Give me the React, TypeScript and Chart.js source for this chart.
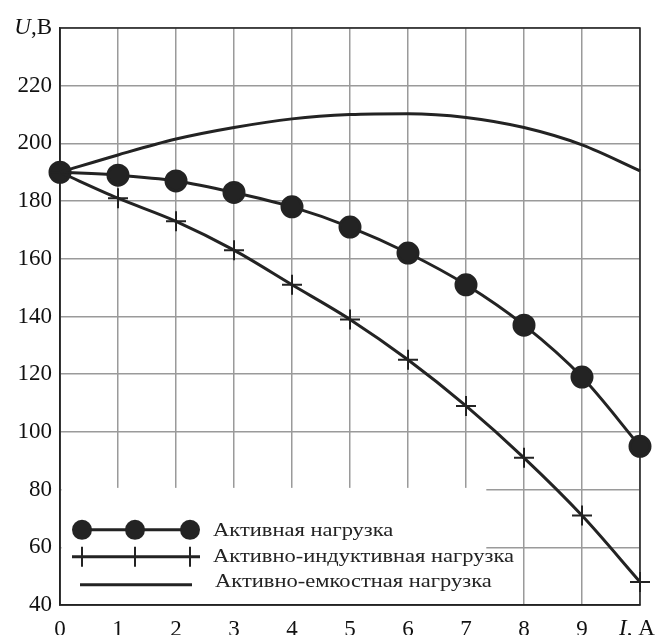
import React, { useEffect, useRef } from "react";
import { Chart, registerables } from "chart.js";

Chart.register(...registerables);

const currentA = [0, 1, 2, 3, 4, 5, 6, 7, 8, 9, 10];
const activeLoad = [190, 189, 187, 183, 178, 171, 162, 151, 137, 119, 95];
const inductiveLoad = [190, 181, 173, 163, 151, 139, 125, 109, 91, 71, 48];
const capacitiveLoad = [190, 196, 201.5, 205.5, 208.5, 210, 210.3, 209, 205.5, 199.5, 190.5];
const seriesNames = ["Активная нагрузка", "Активно-индуктивная нагрузка", "Активно-емкостная нагрузка"];
const xTicks = [0, 1, 2, 3, 4, 5, 6, 7, 8, 9];
const yTicks = [40, 60, 80, 100, 120, 140, 160, 180, 200, 220];

const INK = "#232323";
const FONT = "'Liberation Serif', 'Times New Roman', serif";

export default function App() {
  const ref = useRef<HTMLCanvasElement>(null);
  useEffect(() => {
    document.body.style.margin = "0";
    const canvas = ref.current!;
    const framePlugin = {
      id: "frame",
      beforeDatasetsDraw(chart: any) {
        const { ctx, chartArea: a, scales } = chart;
        const xs = scales.x, ys = scales.y;
        ctx.save();
        // legend box (white) covering grid
        const bx = a.left + 1.5;
        const br = xs.getPixelForValue(7.35);
        const bt = ys.getPixelForValue(80.6);
        ctx.fillStyle = "#fff";
        ctx.fillRect(bx, bt, br - bx, a.bottom - bt - 1);
        // frame
        ctx.strokeStyle = INK;
        ctx.lineWidth = 1.5;
        ctx.strokeRect(a.left, a.top, a.right - a.left, a.bottom - a.top);
        // legend content
        const rows = [bt + 42, bt + 69, bt + 97];
        const sx = [a.left + 22, a.left + 75, a.left + 130];
        ctx.lineWidth = 3;
        ctx.strokeStyle = INK;
        ctx.fillStyle = INK;
        // row 1
        ctx.beginPath();
        ctx.moveTo(sx[0], rows[0]);
        ctx.lineTo(sx[2], rows[0]);
        ctx.stroke();
        sx.forEach((x) => {
          ctx.beginPath();
          ctx.arc(x, rows[0], 10, 0, Math.PI * 2);
          ctx.fill();
        });
        // row 2
        ctx.beginPath();
        ctx.moveTo(sx[0] - 10, rows[1]);
        ctx.lineTo(sx[2] + 10, rows[1]);
        ctx.stroke();
        ctx.lineWidth = 2;
        sx.forEach((x) => {
          ctx.beginPath();
          ctx.moveTo(x, rows[1] - 10);
          ctx.lineTo(x, rows[1] + 10);
          ctx.stroke();
        });
        // row 3
        ctx.lineWidth = 3;
        ctx.beginPath();
        ctx.moveTo(sx[0] - 2, rows[2]);
        ctx.lineTo(sx[2] + 2, rows[2]);
        ctx.stroke();
        ctx.textBaseline = "middle";
        ctx.textAlign = "left";
        ctx.font = `18px ${FONT}`;
        const textRows = [bt + 43, bt + 69, bt + 94];
        const textX = [a.left + 153, a.left + 153, a.left + 155];
        seriesNames.forEach((name, i) => {
          ctx.save();
          ctx.translate(textX[i], textRows[i]);
          ctx.scale(1.25, 1);
          ctx.fillText(name, 0, 0);
          ctx.restore();
        });
        ctx.restore();
      },
      afterDraw(chart: any) {
        const { ctx, scales } = chart;
        const xs = scales.x, ys = scales.y;
        ctx.save();
        ctx.fillStyle = "#111";
        ctx.textBaseline = "middle";
        // U,В
        const uy = ys.getPixelForValue(240);
        ctx.font = `italic 23px ${FONT}`;
        const uW = ctx.measureText("U").width;
        ctx.font = `23px ${FONT}`;
        const restW = ctx.measureText(",В").width;
        const x0 = chart.chartArea.left - 8 - uW - restW;
        ctx.font = `italic 23px ${FONT}`;
        ctx.textAlign = "left";
        ctx.fillText("U", x0, uy);
        ctx.font = `23px ${FONT}`;
        ctx.fillText(",В", x0 + uW, uy);
        // I, A
        const ix = xs.getPixelForValue(10);
        const iy = chart.chartArea.bottom + 24;
        ctx.font = `italic 23px ${FONT}`;
        const iW = ctx.measureText("I").width;
        ctx.font = `23px ${FONT}`;
        const aW = ctx.measureText(", A").width;
        const x1 = ix - (iW + aW) / 2 - 3;
        ctx.font = `italic 23px ${FONT}`;
        ctx.fillText("I", x1, iy);
        ctx.font = `23px ${FONT}`;
        ctx.fillText(", A", x1 + iW, iy);
        ctx.restore();
      },
    };

    const chart = new Chart(canvas, {
      type: "line",
      data: {
        labels: currentA,
        datasets: [
          {
            label: seriesNames[2],
            data: currentA.map((x, i) => ({ x, y: capacitiveLoad[i] })),
            borderColor: INK,
            borderWidth: 3,
            pointRadius: 0,
            tension: 0.4,
            cubicInterpolationMode: "monotone",
            clip: false,
          },
          {
            label: seriesNames[1],
            data: currentA.map((x, i) => ({ x, y: inductiveLoad[i] })),
            borderColor: INK,
            borderWidth: 3,
            pointStyle: "cross",
            pointRadius: 10,
            pointBorderWidth: 2,
            pointBorderColor: INK,
            tension: 0.3,
            cubicInterpolationMode: "monotone",
            clip: false,
          },
          {
            label: seriesNames[0],
            data: currentA.map((x, i) => ({ x, y: activeLoad[i] })),
            borderColor: INK,
            backgroundColor: INK,
            borderWidth: 3,
            pointStyle: "circle",
            pointRadius: 10,
            pointBackgroundColor: INK,
            pointBorderColor: INK,
            tension: 0.3,
            cubicInterpolationMode: "monotone",
            clip: false,
          },
        ],
      },
      options: {
        animation: false,
        responsive: false,
        layout: { padding: { left: 0, right: 27, top: 28, bottom: 0 } },
        plugins: { legend: { display: false }, tooltip: { enabled: false } },
        scales: {
          x: {
            type: "linear",
            min: 0,
            max: 10,
            afterBuildTicks: (s: any) => {
              s.ticks = [...xTicks, 10].map((v) => ({ value: v }));
            },
            afterFit: (s: any) => {
              s.height = 30;
            },
            ticks: {
              color: "#111",
              font: { family: FONT, size: 23 },
              padding: 11,
              maxRotation: 0,
              autoSkip: false,
              callback: (v: any) => (v === 10 ? "" : String(v)),
            },
            grid: { color: "#9a9a9a", lineWidth: 1.5, drawTicks: false },
            border: { color: INK, width: 1.5 },
          },
          y: {
            min: 40,
            max: 240,
            afterBuildTicks: (s: any) => {
              s.ticks = [...yTicks, 240].map((v) => ({ value: v }));
            },
            afterFit: (s: any) => {
              s.width = 60;
            },
            ticks: {
              color: "#111",
              font: { family: FONT, size: 23 },
              padding: 8,
              autoSkip: false,
              callback: (v: any) => (v === 240 ? "" : String(v)),
            },
            grid: { color: "#9a9a9a", lineWidth: 1.5, drawTicks: false },
            border: { color: INK, width: 1.5 },
          },
        },
      },
      plugins: [framePlugin],
    } as any);
    return () => chart.destroy();
  }, []);
  return <canvas ref={ref} width={667} height={635} style={{ display: "block" }} />;
}
